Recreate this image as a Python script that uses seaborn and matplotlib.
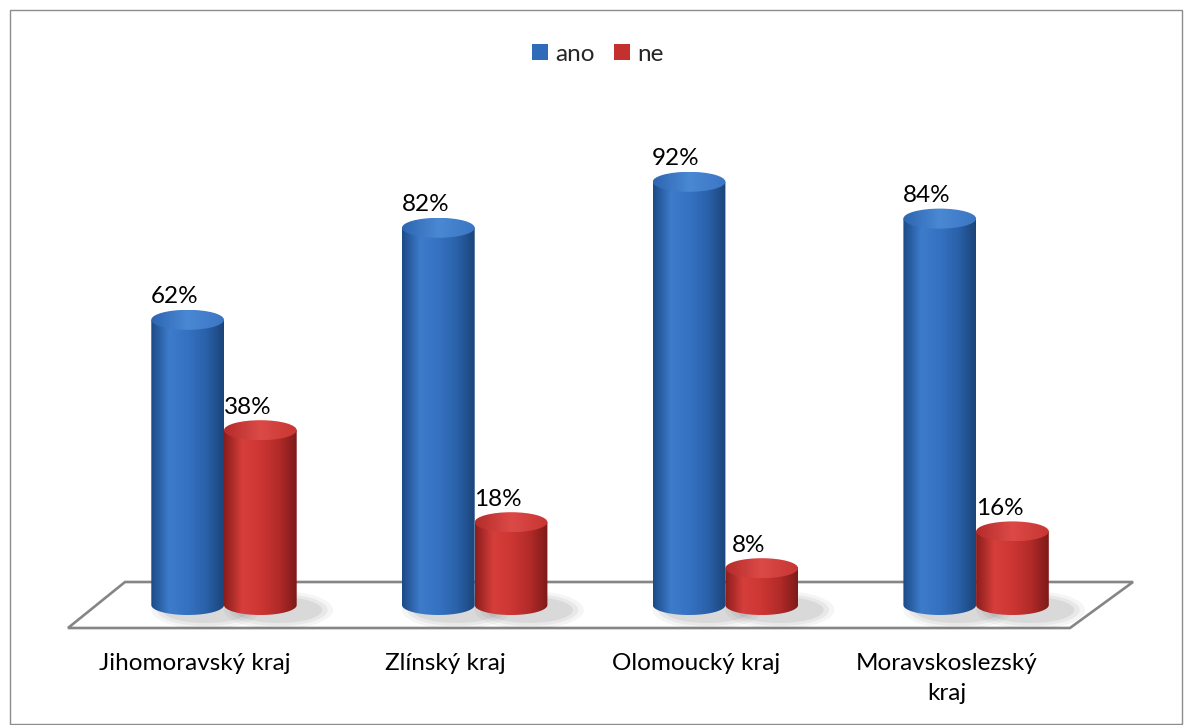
import numpy as np
import pandas as pd
import matplotlib
matplotlib.use("Agg")
import matplotlib.pyplot as plt
import seaborn as sns
from matplotlib.patches import Ellipse, Polygon, Patch, Rectangle, PathPatch
from matplotlib.path import Path
from matplotlib.colors import LinearSegmentedColormap

# --- data ---
regions = ['Jihomoravský kraj', 'Zlínský kraj', 'Olomoucký kraj', 'Moravskoslezský\nkraj']
answers = ['ano', 'ne']
ano = [62, 82, 92, 84]
ne = [38, 18, 8, 16]

df = pd.DataFrame({
    'kraj': regions * 2,
    'odpoved': ['ano'] * len(regions) + ['ne'] * len(regions),
    'podil': ano + ne,
})

# --- style ---
sns.set_theme(style="white")
plt.rcParams['font.family'] = ['Lato', 'DejaVu Sans']

W, H = 1184, 725
fig = plt.figure(figsize=(W / 100, H / 100), dpi=100)
ax = fig.add_axes([0, 0, 1, 1])

colors = {'ano': '#2E6BB8', 'ne': '#C4302E'}
body_cmaps = {
    'ano': LinearSegmentedColormap.from_list('b', ['#1D4A86', '#3D7BCB', '#3672C2', '#2A62AA', '#1B4479']),
    'ne': LinearSegmentedColormap.from_list('r', ['#8A1D1C', '#D63E3B', '#CC3633', '#B22B29', '#7E1A19']),
}
top_cmaps = {
    'ano': LinearSegmentedColormap.from_list('bt', ['#2D66B0', '#4A88D4', '#3B76C3']),
    'ne': LinearSegmentedColormap.from_list('rt', ['#B42C2A', '#DC4A47', '#C83633']),
}

sns.barplot(data=df, x='kraj', y='podil', hue='odpoved', hue_order=answers,
            palette=colors, width=0.58, ax=ax, legend=False, edgecolor='none')

# pixel mapping of the plot area
x0_px, dx_px = 224.0, 250.7   # centre of first category, spacing
y0_px, dy_px = 605.0, 4.6     # baseline, pixels per percent
xlim = (-x0_px / dx_px, (W - x0_px) / dx_px)
ylim = ((y0_px - H) / dy_px, y0_px / dy_px)

def px(xp, yp):
    return ((xp - x0_px) / dx_px, (y0_px - yp) / dy_px)

# floor
floor = Polygon([px(125, 582), px(1133, 582), px(1070, 628), px(68, 628)],
                closed=True, facecolor='white', edgecolor='#858585', lw=1.9, zorder=0.5)
ax.add_patch(floor)

eh = 20 / dy_px  # ellipse height in data units
grad = np.linspace(0, 1, 256).reshape(1, -1)

for cont, ans in zip(ax.containers, answers):
    for bar in cont:
        x0, w, h = bar.get_x(), bar.get_width(), bar.get_height()
        cx = x0 + w / 2
        bar.set_visible(False)
        # soft shadow on floor
        for k, a in enumerate([0.06, 0.08, 0.10]):
            ax.add_patch(Ellipse((cx + w * 0.25, -eh * 0.25), w * (1.5 - 0.15 * k), eh * (1.9 - 0.3 * k),
                                 facecolor='#555555', edgecolor='none', alpha=a, zorder=1))
        # body clip path: rectangle + lower half ellipse
        t = np.linspace(np.pi, 2 * np.pi, 60)
        verts = [(x0, h)] + [(cx + w / 2 * np.cos(a), eh / 2 * np.sin(a)) for a in t] + [(x0 + w, h), (x0, h)]
        clip = PathPatch(Path(verts), transform=ax.transData, facecolor='none', edgecolor='none')
        ax.add_patch(clip)
        im = ax.imshow(grad, cmap=body_cmaps[ans], extent=[x0, x0 + w, -eh / 2, h],
                       aspect='auto', zorder=2, interpolation='bilinear')
        im.set_clip_path(clip)
        # top ellipse
        top = Ellipse((cx, h), w, eh, transform=ax.transData, facecolor='none', edgecolor='none')
        ax.add_patch(top)
        im2 = ax.imshow(grad, cmap=top_cmaps[ans], extent=[x0, x0 + w, h - eh / 2, h + eh / 2],
                        aspect='auto', zorder=3, interpolation='bilinear')
        im2.set_clip_path(top)
        # value label
        ax.text(cx - 13 / dx_px, h + 23 / dy_px, f'{int(h)}%', ha='center', va='center',
                fontsize=17.5, color='black', zorder=4)

# category labels (shifted left to follow the front edge of the floor)
for i, lab in enumerate(regions):
    ax.text(i - 29 / dx_px, px(0, 653)[1], lab, ha='center', va='top', fontsize=17.5,
            color='black', linespacing=1.5)

ax.set_xlim(*xlim)
ax.set_ylim(*ylim)
ax.set_axis_off()

# outer frame
fig.patches.append(Rectangle((10 / W, 1 / H), (W - 12) / W, (H - 11) / H, transform=fig.transFigure,
                             fill=False, edgecolor='#8C8C8C', lw=1.0))

handles = [Patch(facecolor=colors[a], edgecolor='none') for a in answers]
fig.legend(handles, answers, loc='upper center', bbox_to_anchor=(0.505, 1 - 22 / H), ncol=2,
           frameon=False, fontsize=17.5, handlelength=0.65, handleheight=0.65,
           handletextpad=0.3, columnspacing=0.8)

fig.savefig('out.png', dpi=100)
